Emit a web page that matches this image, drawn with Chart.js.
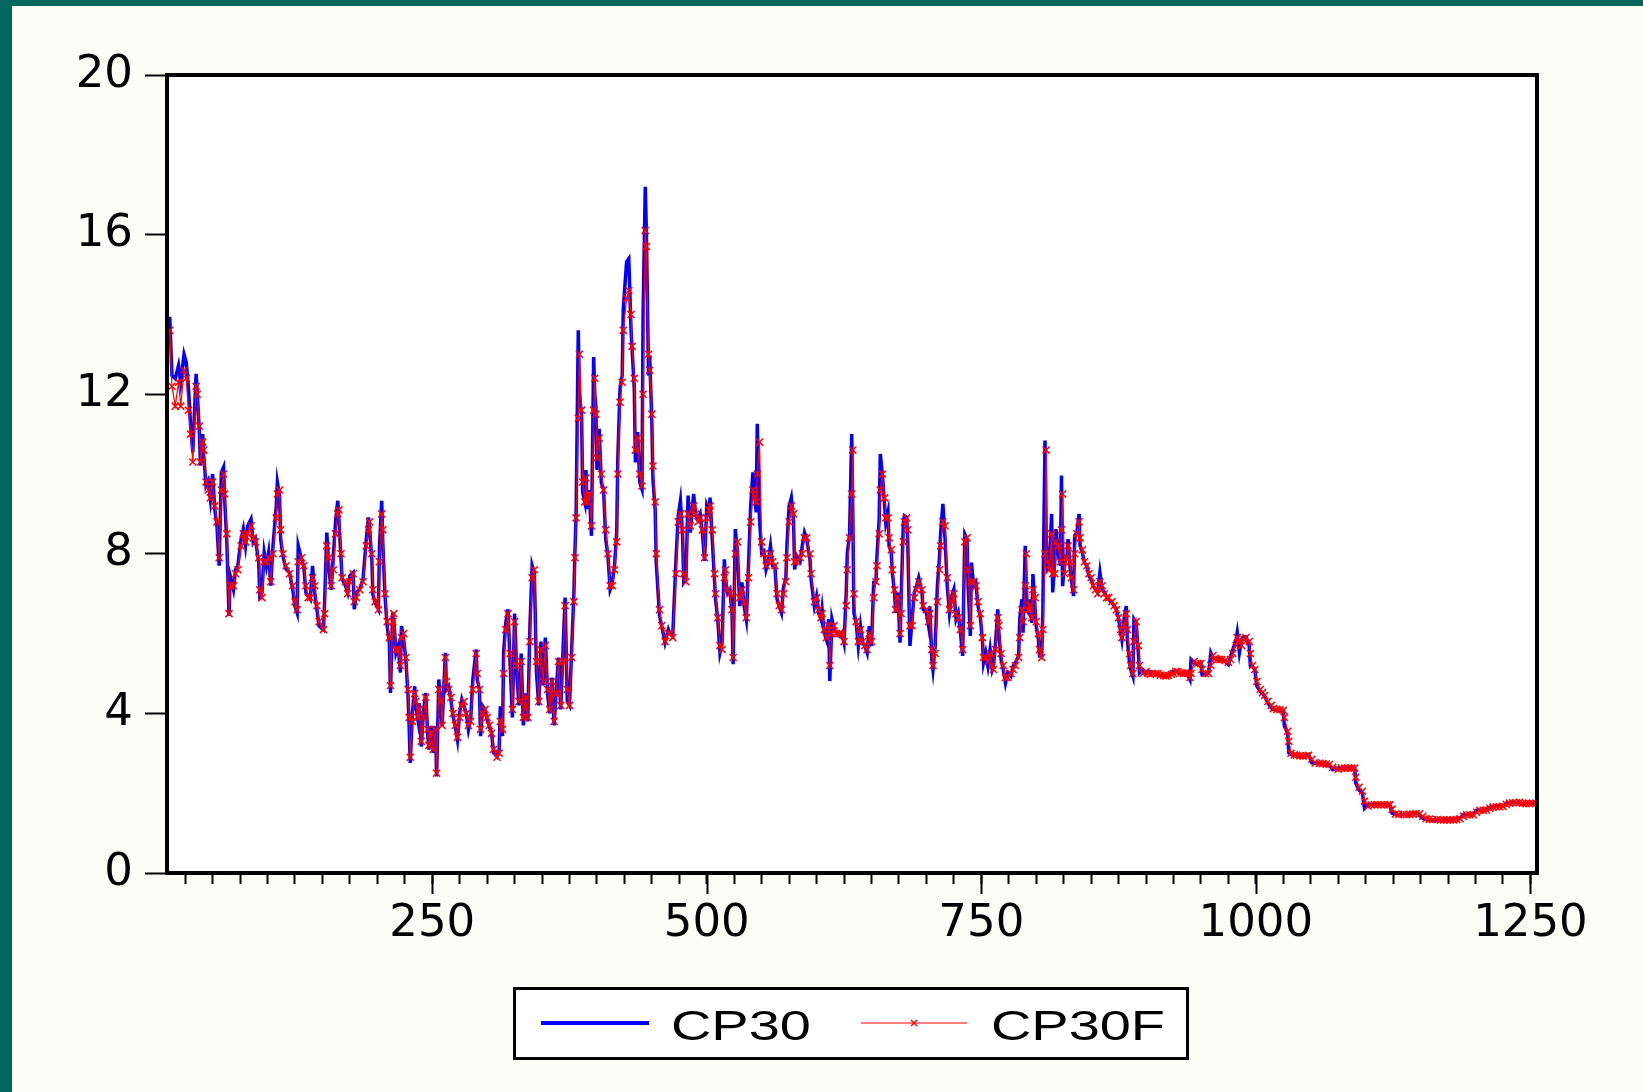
<!DOCTYPE html>
<html>
<head>
<meta charset="utf-8">
<script src="https://cdn.jsdelivr.net/npm/chart.js@4.4.1/dist/chart.umd.min.js"></script>
<style>
  html, body { margin: 0; padding: 0; background: #fdfdf8; }
  #wrap { position: relative; width: 1643px; height: 1092px; overflow: hidden; }
  #edgeL { position: absolute; left: 0; top: 0; width: 12px; height: 1092px; background: #03665f; }
  #edgeT { position: absolute; left: 0; top: 0; width: 1643px; height: 6px; background: #03665f; }
  canvas { position: absolute; left: 0; top: 0; }
  #legend { position: absolute; left: 513px; top: 987px; width: 670px; height: 67px;
            border: 3px solid #000; background: #fff; }
  #legend .txt { position: absolute; top: 14px; font: 43px/43px "Liberation Sans", Arial, sans-serif;
                 color: #000; transform: scaleX(1.3); transform-origin: left top; white-space: nowrap; }
  #legend svg { position: absolute; top: 27px; }
</style>
</head>
<body>
<div id="wrap">
  <canvas id="myChart" width="1643" height="1092"></canvas>
  <div id="edgeL"></div>
  <div id="edgeT"></div>
  <div id="legend">
    <svg style="left:25px" width="108" height="12"><line x1="0" y1="6" x2="108" y2="6" stroke="#0000ff" stroke-width="4"/></svg>
    <span class="txt" style="left:155px">CP30</span>
    <svg style="left:345px" width="106" height="12">
      <line x1="0" y1="6" x2="106" y2="6" stroke="#ff0000" stroke-width="1.2"/>
      <path d="M50 3 L56 9 M56 3 L50 9" stroke="#ff0000" stroke-width="1.4"/>
    </svg>
    <span class="txt" style="left:475px">CP30F</span>
  </div>
</div>
<script>
// observation index
const obs = [
  11,13,16,19,21,24,26,28,30,32,
  35,36,38,39,41,42,44,46,48,50,
  52,54,56,58,60,61,63,65,66,69,
  71,73,76,78,80,82,85,87,89,92,
  93,95,97,99,101,103,105,108,109,111,
  112,114,117,120,123,125,127,128,131,133,
  135,137,139,141,143,145,147,151,152,154,
  156,158,160,162,164,165,167,168,171,173,
  175,178,179,181,184,187,190,192,193,195,
  196,198,201,202,204,205,207,209,211,212,
  214,215,217,219,221,222,224,226,228,229,
  230,232,234,235,237,238,240,242,244,246,
  247,249,251,253,254,256,258,259,262,263,
  265,267,269,271,273,275,277,279,281,283,
  285,287,290,291,293,294,296,298,300,302,
  304,306,309,311,312,314,315,317,319,321,
  323,325,327,329,331,333,335,337,339,341,
  343,345,347,349,351,353,355,357,359,361,
  363,365,367,369,371,373,375,377,379,380,
  381,383,384,386,387,389,390,391,393,395,
  397,398,399,400,402,404,406,408,410,412,
  414,416,418,419,421,423,424,427,429,431,
  432,434,435,437,439,441,442,444,445,447,
  448,450,451,453,454,457,459,462,465,466,
  469,472,474,476,478,479,481,483,485,488,
  490,492,494,496,498,500,502,503,505,507,
  508,510,512,514,516,517,519,521,523,524,
  526,528,530,532,534,536,538,540,542,545,
  546,548,550,552,554,556,558,560,562,564,
  566,568,570,572,573,575,577,579,580,582,
  585,587,589,591,594,595,598,600,602,604,
  605,607,609,611,612,614,616,618,621,623,
  625,627,628,630,632,633,634,636,638,640,
  642,644,646,648,650,652,654,655,657,658,
  660,662,663,665,666,668,669,671,672,674,
  676,677,679,680,682,683,685,687,689,691,
  693,696,697,700,702,703,705,706,708,710,
  712,713,715,717,719,721,723,725,727,729,
  731,733,735,737,738,740,741,743,745,747,
  749,751,752,754,756,758,760,761,763,765,
  766,768,770,772,774,777,779,781,784,785,
  787,788,790,791,793,794,796,797,799,800,
  802,803,805,806,808,809,810,812,814,815,
  817,818,820,822,823,824,826,828,829,831,
  832,834,835,837,839,840,842,844,846,848,
  850,852,854,856,858,860,862,864,866,869,
  871,873,875,877,878,880,882,883,885,886,
  888,889,891,893,894,897,900,902,904,906,
  909,911,913,916,918,920,923,925,927,929,
  932,934,936,938,940,941,944,947,950,951,
  954,957,959,961,963,965,967,969,972,975,
  977,979,982,983,985,987,989,991,994,995,
  997,999,1001,1004,1006,1008,1011,1014,1016,1019,
  1022,1025,1026,1029,1030,1032,1035,1037,1040,1043,
  1046,1048,1051,1054,1058,1061,1064,1067,1070,1075,
  1078,1081,1084,1087,1090,1091,1094,1097,1099,1102,
  1105,1108,1111,1114,1117,1120,1122,1124,1127,1130,
  1134,1137,1140,1143,1146,1149,1152,1155,1158,1161,
  1165,1168,1171,1174,1177,1180,1183,1186,1189,1192,
  1195,1198,1201,1204,1207,1210,1213,1216,1219,1222,
  1225,1228,1231,1234,1237,1240,1243,1246,1249,1252,
  1255
];

// CP30 (blue)
const cp30 = [
  13.94,12.47,12.39,12.72,12.3,13.0,12.8,12.18,11.2,10.54,
  12.51,12.05,11.05,10.21,11.0,10.46,9.71,9.83,9.37,10.0,
  9.12,8.7,7.7,10.04,10.17,9.37,8.28,6.44,7.45,7.11,
  7.61,7.7,8.37,8.62,8.2,8.7,8.87,8.28,8.37,7.78,
  6.94,7.03,8.03,7.7,8.03,7.2,8.2,9.2,9.79,9.45,
  8.37,7.95,7.61,7.53,7.11,6.69,6.52,8.2,7.86,7.7,
  7.03,6.94,6.86,7.7,7.03,6.61,6.19,6.1,6.78,8.53,
  7.6,7.1,7.95,8.8,9.33,8.87,7.86,7.36,7.2,7.03,
  7.45,7.53,6.61,7.03,7.11,7.36,8.37,8.91,8.62,7.86,
  6.98,6.78,6.61,8.2,9.33,8.28,6.94,6.19,5.77,4.51,
  6.52,6.36,5.52,5.69,5.02,6.19,5.86,5.35,4.43,3.67,
  2.76,4.01,4.68,4.18,3.84,4.26,3.17,4.01,4.51,3.43,
  3.09,3.68,3.01,3.68,2.42,4.85,4.1,3.68,5.52,4.6,
  4.68,4.35,3.93,3.68,3.34,4.01,4.35,4.18,4.01,3.59,
  3.84,4.85,5.6,4.85,4.6,3.43,4.18,4.1,3.84,3.68,
  3.51,3.01,2.92,3.09,4.18,3.43,5.52,6.27,6.61,5.2,
  3.9,6.5,5.0,4.2,5.5,3.7,4.5,3.8,6.2,7.7,
  7.5,5.0,4.2,5.8,4.7,5.9,4.5,4.0,4.9,3.7,
  4.6,5.4,4.1,5.5,6.9,4.3,4.2,5.6,7.0,8.1,
  8.95,13.6,12.0,11.5,9.54,9.29,10.1,9.12,9.6,8.45,
  12.93,12.0,11.7,10.1,11.13,9.79,9.62,8.37,7.95,7.11,
  7.28,7.7,8.53,10.38,12.14,12.47,14.15,15.32,15.4,13.64,
  13.14,12.14,10.29,11.05,9.79,9.62,13.98,17.2,16.07,12.47,
  12.97,11.3,9.87,9.12,7.78,6.44,6.19,5.77,6.1,6.02,
  5.94,7.86,8.95,9.33,8.45,7.28,7.36,9.46,8.53,9.5,
  8.95,8.87,9.0,8.53,7.82,9.2,9.04,9.41,8.37,7.36,
  6.86,6.36,5.52,5.77,7.86,7.36,7.03,7.11,6.52,5.23,
  8.62,8.03,6.69,7.28,6.69,6.36,7.7,9.2,10.04,9.04,
  11.26,8.87,8.03,8.07,7.61,7.82,8.2,7.7,7.7,6.86,
  6.69,6.52,7.19,7.36,8.2,9.2,9.41,8.87,7.61,7.95,
  7.82,8.2,8.53,8.37,7.86,7.36,6.69,6.94,6.52,6.36,
  6.61,6.02,5.85,6.36,4.81,6.36,6.11,6.02,5.94,6.02,
  5.77,7.03,8.03,8.45,11.0,9.0,6.52,6.27,5.69,6.19,
  5.77,5.69,5.52,6.19,5.69,7.28,7.28,7.95,8.87,10.5,
  9.96,9.2,8.78,9.04,8.2,8.03,7.53,7.03,6.52,7.03,
  5.77,6.86,8.78,8.95,8.91,8.37,5.69,6.36,7.03,7.19,
  7.4,7.03,6.61,6.52,6.19,6.69,5.35,5.1,5.69,7.19,
  7.95,8.53,9.25,8.37,7.19,6.52,6.94,7.11,6.36,6.52,
  6.02,5.44,8.49,8.37,7.19,5.94,7.78,7.19,7.28,6.69,
  6.44,5.85,5.27,5.52,5.19,5.6,5.1,5.19,5.77,6.61,
  6.02,5.35,5.1,4.76,5.02,4.93,5.19,5.27,5.44,6.36,
  6.86,6.02,8.2,6.61,6.52,6.86,6.27,7.49,6.61,6.19,
  5.85,5.44,5.44,6.52,10.84,8.5,7.61,7.7,9.0,7.03,
  7.86,8.62,8.03,7.7,9.96,7.19,7.86,7.95,8.37,7.61,
  7.36,6.94,8.45,8.53,9.0,8.2,8.03,7.78,7.7,7.45,
  7.36,7.19,7.11,7.03,7.53,7.11,7.03,6.94,6.86,6.77,
  6.69,6.61,6.36,6.02,5.85,6.36,6.69,5.85,5.27,5.1,
  4.93,6.36,6.27,5.52,5.02,5.1,5.0,5.06,5.02,5.02,
  4.98,4.97,4.95,4.93,4.95,4.97,5.02,5.06,5.04,5.02,
  5.0,5.02,5.0,4.97,4.85,5.35,5.27,5.23,5.27,4.97,
  4.97,5.02,5.52,5.39,5.37,5.35,5.36,5.35,5.31,5.23,
  5.43,5.6,5.85,6.02,5.52,5.85,5.92,5.92,5.69,5.19,
  5.18,5.1,4.68,4.56,4.5,4.43,4.26,4.14,4.1,4.1,
  4.08,4.08,3.68,3.51,3.01,2.97,2.95,2.94,2.93,2.92,
  2.95,2.97,2.76,2.75,2.74,2.73,2.72,2.71,2.59,2.63,
  2.63,2.63,2.63,2.63,2.63,2.25,2.08,2.0,1.62,1.71,
  1.71,1.71,1.71,1.71,1.71,1.71,1.71,1.5,1.47,1.46,
  1.46,1.47,1.48,1.49,1.5,1.45,1.37,1.35,1.34,1.33,
  1.33,1.33,1.33,1.33,1.33,1.34,1.35,1.37,1.46,1.46,
  1.46,1.46,1.57,1.57,1.58,1.58,1.65,1.66,1.66,1.67,
  1.67,1.75,1.76,1.76,1.77,1.77,1.73,1.74,1.75,1.75,
  1.75
];

// CP30F (red, with markers)
const cp30f = [
  13.6,12.2,11.7,12.3,11.7,12.6,12.4,11.6,11.0,10.3,
  12.2,12.0,11.2,10.3,10.8,10.6,9.8,9.6,9.4,9.8,
  9.2,8.8,7.9,9.6,10.0,9.5,8.5,6.5,7.2,7.2,
  7.5,7.6,8.2,8.5,8.3,8.5,8.7,8.4,8.3,7.9,
  7.1,6.9,7.8,7.8,7.9,7.3,8.0,8.9,9.5,9.6,
  8.6,8.0,7.7,7.5,7.2,6.8,6.6,7.8,7.9,7.7,
  7.2,6.9,6.9,7.4,7.2,6.7,6.3,6.1,6.5,8.2,
  7.9,7.2,7.6,8.5,9.0,9.1,8.0,7.4,7.3,7.0,
  7.3,7.5,6.8,6.9,7.1,7.3,8.2,8.6,8.8,8.0,
  7.1,6.8,6.6,7.8,9.0,8.6,7.0,6.3,5.9,4.7,
  6.3,6.5,5.6,5.6,5.2,5.9,6.0,5.4,4.6,3.9,
  2.9,3.8,4.5,4.3,3.9,4.1,3.3,3.9,4.4,3.6,
  3.2,3.5,3.1,3.6,2.5,4.6,4.3,3.7,5.4,4.8,
  4.6,4.4,4.0,3.7,3.4,3.9,4.2,4.3,4.0,3.7,
  3.8,4.6,5.5,5.0,4.6,3.6,4.0,4.1,3.9,3.7,
  3.5,3.1,2.9,3.0,3.8,3.6,5.0,6.1,6.5,5.5,
  4.1,6.3,5.2,4.3,5.3,3.9,4.4,3.9,5.8,7.4,
  7.6,5.3,4.3,5.6,4.8,5.7,4.6,4.1,4.8,3.8,
  4.5,5.3,4.2,5.3,6.7,4.6,4.2,5.4,6.8,7.9,
  8.9,11.4,13.0,11.6,9.8,9.3,9.9,9.3,9.5,8.7,
  11.6,12.4,11.5,10.4,10.9,10.0,9.6,8.6,8.0,7.2,
  7.2,7.6,8.3,10.0,11.8,12.3,13.6,14.4,14.6,14.0,
  13.2,12.4,10.6,10.9,10.0,9.7,12.0,16.1,15.7,13.0,
  12.6,11.5,10.2,9.3,8.0,6.6,6.2,5.8,6.0,6.0,
  5.9,7.5,8.8,9.0,8.6,7.5,7.3,9.0,8.7,9.2,
  9.0,8.8,8.9,8.6,7.9,8.9,9.1,9.2,8.6,7.5,
  7.0,6.4,5.7,5.6,7.4,7.6,7.1,7.0,6.6,5.4,
  8.0,8.3,6.9,7.1,6.8,6.4,7.4,8.8,9.6,9.3,
  10.0,10.8,8.3,8.0,7.7,7.8,8.0,7.8,7.7,7.0,
  6.7,6.6,7.0,7.3,7.9,8.8,9.2,9.0,7.8,7.8,
  7.9,8.0,8.4,8.4,8.0,7.5,6.8,6.9,6.6,6.4,
  6.5,6.1,5.9,6.2,5.2,6.0,6.2,6.0,6.0,6.0,
  5.8,6.7,7.6,8.4,9.5,10.6,7.0,6.3,5.8,6.1,
  5.8,5.7,5.6,6.0,5.8,6.9,7.3,7.7,8.5,9.6,
  10.0,9.4,8.9,8.9,8.4,8.1,7.6,7.1,6.6,6.9,
  6.0,6.5,8.3,8.8,8.9,8.6,6.2,6.2,6.9,7.1,
  7.3,7.1,6.7,6.6,6.3,6.5,5.6,5.2,5.5,6.8,
  7.6,8.2,8.8,8.7,7.4,6.6,6.8,7.0,6.5,6.4,
  6.1,5.6,8.3,8.4,7.6,6.2,7.3,7.3,7.2,6.8,
  6.5,5.9,5.4,5.4,5.3,5.5,5.2,5.1,5.6,6.4,
  6.2,5.5,5.2,4.9,4.9,5.0,5.1,5.2,5.4,5.9,
  6.6,6.3,7.2,8.0,6.6,6.7,6.4,7.1,6.9,6.3,
  6.0,5.6,5.4,6.1,8.0,10.6,7.8,7.6,8.5,7.5,
  7.5,8.3,8.2,7.8,8.6,9.5,7.5,7.9,8.2,7.8,
  7.4,7.1,8.0,8.5,8.8,8.4,8.1,7.8,7.7,7.5,
  7.4,7.2,7.1,7.0,7.3,7.2,7.0,6.9,6.9,6.8,
  6.7,6.6,6.4,6.1,5.9,6.2,6.5,6.1,5.5,5.2,
  5.0,5.8,6.3,5.7,5.2,5.0,5.05,5.0,4.98,5.0,
  5.0,5.0,4.96,4.95,4.94,4.95,4.98,5.0,5.05,5.05,
  5.02,5.0,5.01,5.0,4.9,5.0,5.3,5.25,5.25,5.1,
  5.0,5.0,5.2,5.45,5.38,5.35,5.35,5.35,5.33,5.28,
  5.35,5.5,5.7,5.9,5.8,5.7,5.85,5.9,5.8,5.5,
  5.2,5.1,4.8,4.6,4.52,4.45,4.3,4.2,4.12,4.1,
  4.09,4.08,3.9,3.55,3.3,3.0,2.96,2.95,2.94,2.93,
  2.94,2.95,2.85,2.76,2.75,2.74,2.73,2.72,2.65,2.6,
  2.63,2.63,2.63,2.63,2.63,2.4,2.15,2.05,1.8,1.68,
  1.71,1.71,1.71,1.71,1.71,1.71,1.71,1.6,1.48,1.47,
  1.47,1.46,1.47,1.48,1.49,1.48,1.42,1.36,1.35,1.34,
  1.34,1.33,1.33,1.33,1.33,1.33,1.34,1.36,1.42,1.46,
  1.46,1.46,1.52,1.57,1.57,1.58,1.62,1.65,1.66,1.66,
  1.67,1.72,1.75,1.76,1.76,1.77,1.75,1.74,1.74,1.75,
  1.75
];

const yTicks = [0, 4, 8, 12, 16, 20];
const xLabels = [250, 500, 750, 1000, 1250];

const n = Math.min(obs.length, cp30.length, cp30f.length);
const blueData = [];
const redData = [];
for (let i = 0; i < n; i++) {
  blueData.push({ x: obs[i], y: cp30[i] });
  redData.push({ x: obs[i], y: cp30f[i] });
}

const tickFont = { family: 'DejaVu Sans', size: 45 };

// white plot area, thick frame, longer major ticks
const framePlugin = {
  id: 'frame',
  beforeDraw(chart) {
    const a = chart.chartArea;
    const c = chart.ctx;
    c.save();
    c.fillStyle = '#ffffff';
    c.fillRect(a.left, a.top, a.right - a.left, a.bottom - a.top);
    c.restore();
  },
  afterDraw(chart) {
    const a = chart.chartArea;
    const c = chart.ctx;
    const xs = chart.scales.x;
    c.save();
    c.strokeStyle = '#000';
    c.lineWidth = 2;
    xLabels.forEach(v => {
      const px = Math.round(xs.getPixelForValue(v)) + 0.5;
      c.beginPath();
      c.moveTo(px, a.bottom);
      c.lineTo(px, a.bottom + 21);
      c.stroke();
    });
    c.lineWidth = 4;
    c.strokeRect(a.left, a.top, a.right - a.left, a.bottom - a.top);
    c.restore();
  }
};

const ctx = document.getElementById('myChart').getContext('2d');
const myChart = new Chart(ctx, {
  type: 'line',
  data: {
    datasets: [
      {
        label: 'CP30F',
        data: redData,
        borderColor: '#ff0000',
        borderWidth: 1.2,
        pointStyle: 'crossRot',
        pointRadius: 5,
        pointBorderColor: '#ff0000',
        pointBorderWidth: 1.5,
        pointBackgroundColor: '#ff0000',
        tension: 0,
        order: 1,
      },
      {
        label: 'CP30',
        data: blueData,
        borderColor: '#0000ff',
        borderWidth: 3.5,
        pointRadius: 0,
        tension: 0,
        order: 2,
      },
    ],
  },
  options: {
    responsive: false,
    animation: false,
    devicePixelRatio: 1,
    layout: { padding: { left: 0, top: 75, right: 106, bottom: 119 } },
    plugins: {
      legend: { display: false },
      tooltip: { enabled: false },
    },
    scales: {
      x: {
        type: 'linear',
        min: 8.5,
        max: 1256,
        afterFit(scale) { scale.height = 100; },
        border: { display: false },
        grid: { drawOnChartArea: false, drawTicks: true, tickLength: 11, tickWidth: 2, tickColor: '#000' },
        ticks: {
          stepSize: 25,
          includeBounds: false,
          autoSkip: false,
          maxRotation: 0,
          minRotation: 0,
          padding: 13,
          color: '#000',
          font: tickFont,
          callback: (v) => (xLabels.includes(v) ? String(v) : ''),
        },
      },
      y: {
        min: 0,
        max: 20,
        afterFit(scale) { scale.width = 167; },
        afterBuildTicks(scale) { scale.ticks = yTicks.map(v => ({ value: v })); },
        border: { display: false },
        grid: { drawOnChartArea: false, drawTicks: true, tickLength: 22, tickWidth: 2, tickColor: '#000' },
        ticks: {
          padding: 12,
          color: '#000',
          font: tickFont,
        },
      },
    },
  },
  plugins: [framePlugin],
});
</script>
</body>
</html>
